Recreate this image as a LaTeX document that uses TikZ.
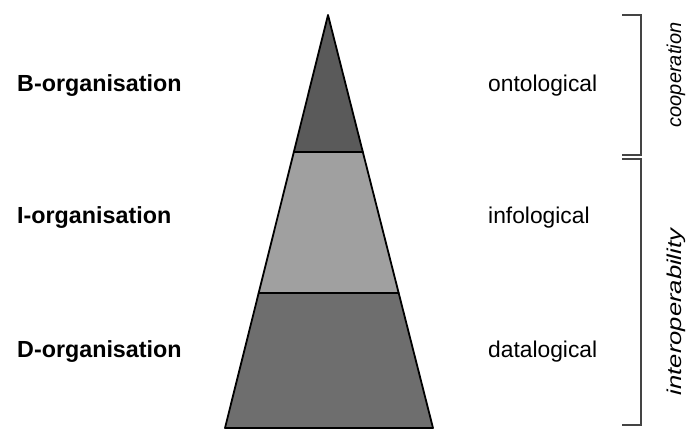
\documentclass[tikz,border=0pt]{standalone}
\usepackage{fontspec}
\setmainfont{Liberation Sans}
\usetikzlibrary{calc}
\definecolor{topfill}{HTML}{5A5A5A}
\definecolor{midfill}{HTML}{A0A0A0}
\definecolor{botfill}{HTML}{6E6E6E}
\definecolor{bracketgray}{HTML}{444444}
\tikzset{
  orglabel/.style={anchor=base west, font=\fontsize{23.3}{27}\selectfont\bfseries, inner sep=0pt},
  levellabel/.style={anchor=base west, font=\fontsize{22.8}{26}\selectfont, inner sep=0pt},
  sidelabel/.style={rotate=90, font=\fontsize{20}{24}\selectfont\itshape, inner sep=0pt},
  layer/.style={draw=black, line width=1.8pt, line join=round},
  bracket/.style={draw=bracketgray, line width=1.3pt}
}
\begin{document}
\begin{tikzpicture}[x=1pt, y=-1pt]
  \useasboundingbox (0,0) rectangle (687,430);

  % pyramid corners
  \coordinate (apex) at (328,15);
  \coordinate (bl) at (225,428);
  \coordinate (br) at (433,428);
  \coordinate (l1) at ($(apex)!0.3317!(bl)$);
  \coordinate (r1) at ($(apex)!0.3317!(br)$);
  \coordinate (l2) at ($(apex)!0.6731!(bl)$);
  \coordinate (r2) at ($(apex)!0.6731!(br)$);

  % three layers
  \filldraw[layer, fill=botfill] (l2) -- (r2) -- (br) -- (bl) -- cycle;
  \filldraw[layer, fill=midfill] (l1) -- (r1) -- (r2) -- (l2) -- cycle;
  \filldraw[layer, fill=topfill] (apex) -- (r1) -- (l1) -- cycle;

  % organisation labels
  \node[orglabel] (borg) at (17,92) {B-organisation};
  \node[orglabel] (iorg) at (17,224) {I-organisation};
  \node[orglabel] (dorg) at (17,357) {D-organisation};

  % level labels
  \node[levellabel] (onto) at (488,92) {ontological};
  \node[levellabel] (info) at (488,224) {infological};
  \node[levellabel] (data) at (488,357) {datalogical};

  % brackets
  \coordinate (c1) at (622,15);
  \coordinate (c2) at (641,15);
  \coordinate (c3) at (641,155);
  \coordinate (c4) at (622,155);
  \coordinate (i1) at (622,159);
  \coordinate (i2) at (641,159);
  \coordinate (i3) at (641,425);
  \coordinate (i4) at (622,425);
  \draw[bracket] (c1) -- (c2) -- (c3) -- (c4);
  \draw[bracket] (i1) -- (i2) -- (i3) -- (i4);

  % bracket labels
  \node[sidelabel] (coop) at (676,75) {cooperation};
  \node[sidelabel] (interop) at (676,312) {\scalebox{1.28}[1]{interoperability}};
\end{tikzpicture}
\end{document}
